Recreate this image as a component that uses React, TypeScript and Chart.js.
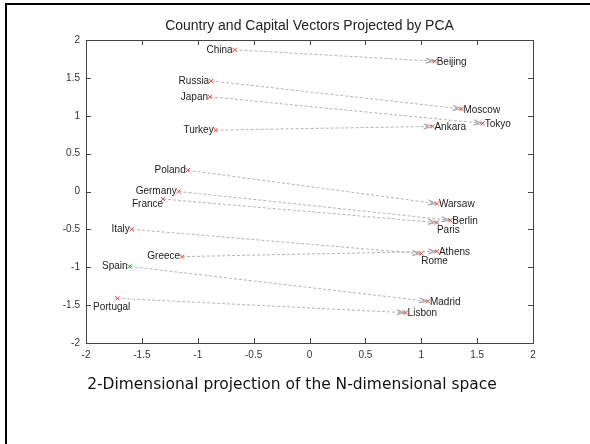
import React, { useEffect, useRef } from "react";
import { Chart, registerables } from "chart.js";
Chart.register(...registerables);

const countries = ["China", "Russia", "Japan", "Turkey", "Poland", "Germany", "France", "Italy", "Greece", "Spain", "Portugal"];
const countryX = [-0.67, -0.88, -0.89, -0.84, -1.09, -1.17, -1.31, -1.59, -1.14, -1.61, -1.72];
const countryY = [1.87, 1.46, 1.25, 0.81, 0.28, 0.0, -0.1, -0.5, -0.86, -0.99, -1.41];
const capitals = ["Beijing", "Moscow", "Tokyo", "Ankara", "Warsaw", "Berlin", "Paris", "Rome", "Athens", "Madrid", "Lisbon"];
const capitalX = [1.12, 1.36, 1.55, 1.1, 1.14, 1.26, 1.14, 1.0, 1.14, 1.06, 0.86];
const capitalY = [1.72, 1.09, 0.9, 0.86, -0.16, -0.38, -0.41, -0.82, -0.79, -1.45, -1.6];
const xTickValues = [-2, -1.5, -1, -0.5, 0, 0.5, 1, 1.5, 2];
const xTickLabels = ["-2", "-1.5", "-1", "-0.5", "0", "0.5", "1", "1.5", "2"];
const yTickValues = [-2, -1.5, -1, -0.5, 0, 0.5, 1, 1.5, 2];
const yTickLabels = ["-2", "-1.5", "-1", "-0.5", "0", "0.5", "1", "1.5", "2"];
const chartTitle = "Country and Capital Vectors Projected by PCA";
const caption = "2-Dimensional projection of the N-dimensional space";

// label placement (style only): [align, dx, dy]
const countryPlacement: Record<string, [CanvasTextAlign, number, number]> = {
  France: ["right", 0, 5],
  Portugal: ["right", 13, 9],
};
const capitalPlacement: Record<string, [CanvasTextAlign, number, number]> = {
  Paris: ["left", 0, 8],
  Rome: ["left", 0, 8],
};

const FONT = "'Liberation Sans', Arial, sans-serif";

function tickLabel(values: number[], labels: string[], v: number) {
  const i = values.findIndex((t) => Math.abs(t - v) < 1e-9);
  return i >= 0 ? labels[i] : "";
}

const decorPlugin = {
  id: "decor",
  beforeDatasetsDraw(chart: any) {
    const { ctx, scales } = chart;
    const xs = scales.x, ys = scales.y;
    ctx.save();
    for (let i = 0; i < countries.length; i++) {
      const x1 = xs.getPixelForValue(countryX[i]);
      const y1 = ys.getPixelForValue(countryY[i]);
      const x2 = xs.getPixelForValue(capitalX[i]);
      const y2 = ys.getPixelForValue(capitalY[i]);
      ctx.strokeStyle = "#b4b4b4";
      ctx.lineWidth = 1;
      ctx.setLineDash([3, 2]);
      ctx.beginPath();
      ctx.moveTo(x1, y1);
      ctx.lineTo(x2, y2);
      ctx.stroke();
      ctx.setLineDash([]);
      const ang = Math.atan2(y2 - y1, x2 - x1);
      const len = 9;
      const spread = 0.28;
      ctx.strokeStyle = "#a8a8a8";
      ctx.beginPath();
      ctx.moveTo(x2 - len * Math.cos(ang - spread), y2 - len * Math.sin(ang - spread));
      ctx.lineTo(x2, y2);
      ctx.lineTo(x2 - len * Math.cos(ang + spread), y2 - len * Math.sin(ang + spread));
      ctx.stroke();
      ctx.beginPath();
      const b = 4;
      ctx.moveTo(x2 - len * Math.cos(ang - spread), y2 - len * Math.sin(ang - spread));
      ctx.lineTo(x2 - b * Math.cos(ang), y2 - b * Math.sin(ang));
      ctx.lineTo(x2 - len * Math.cos(ang + spread), y2 - len * Math.sin(ang + spread));
      ctx.stroke();
    }
    ctx.restore();
  },
  afterDatasetsDraw(chart: any) {
    const { ctx, scales } = chart;
    const xs = scales.x, ys = scales.y;
    ctx.save();
    ctx.font = `10px ${FONT}`;
    ctx.fillStyle = "#222";
    ctx.textBaseline = "middle";
    for (let i = 0; i < countries.length; i++) {
      const px = xs.getPixelForValue(countryX[i]);
      const py = ys.getPixelForValue(countryY[i]);
      const p = countryPlacement[countries[i]] || ["right", -2, 0];
      ctx.textAlign = p[0];
      ctx.fillText(countries[i], px + p[1], py + p[2]);
    }
    for (let i = 0; i < capitals.length; i++) {
      const px = xs.getPixelForValue(capitalX[i]);
      const py = ys.getPixelForValue(capitalY[i]);
      const p = capitalPlacement[capitals[i]] || ["left", 2, 1];
      ctx.textAlign = p[0];
      ctx.fillText(capitals[i], px + p[1], py + p[2]);
    }
    ctx.restore();
  },
  afterDraw(chart: any) {
    const { ctx, chartArea, scales } = chart;
    const { left, right, top, bottom } = chartArea;
    ctx.save();
    // frame of the slide
    ctx.fillStyle = "#000";
    ctx.fillRect(5, 3, 590, 2);
    ctx.fillRect(5, 3, 2, 444);
    // plot box
    ctx.strokeStyle = "#444";
    ctx.lineWidth = 1;
    ctx.strokeRect(Math.round(left) + 0.5, Math.round(top) + 0.5, Math.round(right - left), Math.round(bottom - top));
    // inward ticks
    const tl = 5;
    ctx.beginPath();
    for (const v of xTickValues) {
      const x = Math.round(scales.x.getPixelForValue(v)) + 0.5;
      ctx.moveTo(x, bottom);
      ctx.lineTo(x, bottom - tl);
      ctx.moveTo(x, top);
      ctx.lineTo(x, top + tl);
    }
    for (const v of yTickValues) {
      const y = Math.round(scales.y.getPixelForValue(v)) + 0.5;
      ctx.moveTo(left, y);
      ctx.lineTo(left + tl, y);
      ctx.moveTo(right, y);
      ctx.lineTo(right - tl, y);
    }
    ctx.stroke();
    // title
    ctx.fillStyle = "#222";
    ctx.font = `14px ${FONT}`;
    ctx.textAlign = "center";
    ctx.textBaseline = "alphabetic";
    ctx.fillText(chartTitle, (left + right) / 2, 30);
    // caption
    let size = 18;
    ctx.font = `${size}px 'DejaVu Sans', sans-serif`;
    const w = ctx.measureText(caption).width;
    size = (size * 410) / w;
    ctx.font = `${size}px 'DejaVu Sans', sans-serif`;
    ctx.fillStyle = "#111";
    ctx.fillText(caption, 292, 389);
    ctx.restore();
  },
};

export default function App() {
  const ref = useRef<HTMLCanvasElement>(null);
  useEffect(() => {
    if (!ref.current) return;
    const countryPts = countryX.map((x, i) => ({ x, y: countryY[i] }));
    const capitalPts = capitalX.map((x, i) => ({ x, y: capitalY[i] }));
    const chart = new Chart(ref.current, {
      type: "scatter",
      data: {
        datasets: [
          {
            label: "Countries",
            data: countryPts,
            pointStyle: "crossRot",
            pointRadius: 3,
            borderColor: "#f04040",
            backgroundColor: "#f04040",
            borderWidth: 1,
          },
          {
            label: "Capitals",
            data: capitalPts,
            pointStyle: "crossRot",
            pointRadius: 3,
            borderColor: "#f04040",
            backgroundColor: "#f04040",
            borderWidth: 1,
          },
        ],
      },
      options: {
        animation: false,
        responsive: false,
        devicePixelRatio: 1,
        layout: { padding: { left: 0, right: 57, top: 40, bottom: 81 } },
        plugins: { legend: { display: false }, tooltip: { enabled: false }, title: { display: false } },
        scales: {
          x: {
            type: "linear",
            min: -2,
            max: 2,
            afterFit: (s: any) => {
              s.height = 20;
            },
            afterBuildTicks: (s: any) => {
              s.ticks = xTickValues.map((v) => ({ value: v }));
            },
            ticks: {
              callback: (v: any) => tickLabel(xTickValues, xTickLabels, Number(v)),
              font: { size: 10, family: FONT },
              color: "#333",
              padding: 6,
              maxRotation: 0,
              autoSkip: false,
            },
            grid: { display: false, drawTicks: false },
            border: { display: false },
          },
          y: {
            type: "linear",
            min: -2,
            max: 2,
            afterFit: (s: any) => {
              s.width = 86;
            },
            afterBuildTicks: (s: any) => {
              s.ticks = yTickValues.map((v) => ({ value: v }));
            },
            ticks: {
              callback: (v: any) => tickLabel(yTickValues, yTickLabels, Number(v)),
              font: { size: 10, family: FONT },
              color: "#333",
              padding: 6,
              autoSkip: false,
            },
            grid: { display: false, drawTicks: false },
            border: { display: false },
          },
        },
      },
      plugins: [decorPlugin],
    });
    return () => chart.destroy();
  }, []);
  return (
    <div style={{ position: "absolute", left: 0, top: 0, width: 590, height: 444, background: "#fff" }}>
      <canvas ref={ref} width={590} height={444} style={{ display: "block" }} />
    </div>
  );
}
